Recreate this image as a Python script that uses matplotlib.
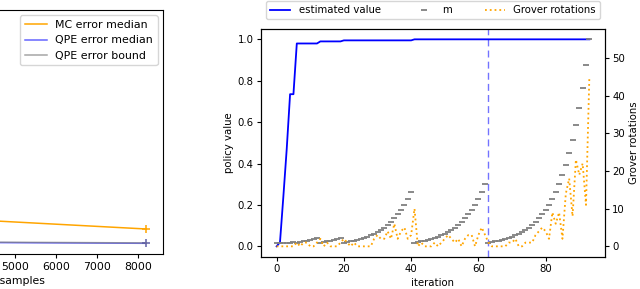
import matplotlib
matplotlib.use('Agg')
import matplotlib.pyplot as plt

plt.rcParams.update({
    'font.size': 7.3,
    'xtick.major.size': 2.6,
    'ytick.major.size': 2.6,
    'xtick.major.pad': 2.6,
    'ytick.major.pad': 2.6,
    'axes.labelpad': 2.8,
})

# left panel: error vs number of samples
n_samples = [16, 32, 64, 128, 256, 512, 1024, 2048, 4096, 8192]
mc_err = [0.125, 0.088, 0.0625, 0.044, 0.031, 0.022, 0.0156, 0.011, 0.0078, 0.0055]
qpe_err = [0.04, 0.025, 0.015, 0.009, 0.006, 0.004, 0.003, 0.0025, 0.00204, 0.00184]
qpe_bound = [0.042, 0.027, 0.016, 0.0095, 0.0065, 0.0044, 0.0033, 0.0027, 0.00215, 0.00194]

# right panel: one estimation run
est_value = ([0.0, 0.02, 0.24, 0.47, 0.735, 0.735]
             + [0.98] * 7 + [0.99] * 7 + [0.995] * 21 + [1.0] * 53)
m_values = ([1, 1, 1, 1, 1, 1.14]
            + [1, 1.14, 1.31, 1.49, 1.71, 1.95, 2.23]
            + [1, 1.14, 1.31, 1.49, 1.71, 1.95, 2.23]
            + [1, 1.14, 1.31, 1.49, 1.71, 1.95, 2.23, 2.55, 2.91, 3.33, 3.80,
               4.35, 4.97, 5.68, 6.49, 7.42, 8.48, 9.69, 11.07, 12.66, 14.46]
            + [1, 1.14, 1.31, 1.49, 1.71, 1.95, 2.23, 2.55, 2.91, 3.33, 3.80,
               4.35, 4.97, 5.68, 6.49, 7.42, 8.48, 9.69, 11.07, 12.66, 14.46, 16.53]
            + [1, 1.14, 1.31, 1.49, 1.71, 1.95, 2.23, 2.55, 2.91, 3.33, 3.80,
               4.35, 4.97, 5.68, 6.49, 7.42, 8.48, 9.69, 11.07, 12.66, 14.46,
               16.53, 18.89, 21.59, 24.67, 28.20, 32.22, 36.83, 42.09, 48.10, 54.97])
grover = ([0, 0, 0, 0, 0, 0]
          + [1, 0, 1, 1, 0, 0, 1]
          + [2, 0, 1, 0, 0, 0, 1, 2]
          + [1, 0, 1, 0, 0, 0, 0, 0]
          + [2, 3, 2, 2, 4, 2, 6, 2, 4, 5, 2, 3]
          + [10, 0, 1, 0, 0, 0, 1, 0, 1, 2]
          + [3, 2, 1, 2, 0, 2, 3, 3, 0, 3, 5, 3]
          + [1, 0, 0, 0, 0]
          + [0, 1, 1, 2, 0, 0, 1, 1, 1, 3, 4, 5, 4]
          + [2, 9, 6, 9, 2, 14, 18, 8, 23, 19, 22, 11, 45])
iterations = list(range(len(est_value)))
marked_iter = 63

fig = plt.figure(figsize=(6.4, 2.89), dpi=100)

# left panel (mostly cropped off)
ax0 = fig.add_axes([-0.3242, 0.1194, 0.5789, 0.846])
ax0.plot(n_samples, mc_err, color='orange', linewidth=1.1, label='MC error median')
ax0.plot(n_samples, qpe_err, color='blue', linewidth=1.1, alpha=0.6, label='QPE error median')
ax0.plot(n_samples, qpe_bound, color='gray', linewidth=1.1, alpha=0.7, label='QPE error bound')
ax0.plot(n_samples, mc_err, '+', color='orange', markersize=6, markeredgewidth=1.1)
ax0.plot(n_samples, qpe_err, '+', color='blue', alpha=0.6, markersize=6, markeredgewidth=1.1)
ax0.plot(n_samples, qpe_bound, '+', color='gray', alpha=0.7, markersize=6, markeredgewidth=1.1)
ax0.set_ylim(-0.00102, 0.0615)
ax0.tick_params(labelsize=7.8)
ax0.set_xlabel('total number of samples', fontsize=7.8)
ax0.set_ylabel('error', fontsize=7.8)
ax0.legend(loc='upper right', fontsize=7.9)

# right panel
ax = fig.add_axes([0.4078, 0.1118, 0.5375, 0.7879])
ax2 = ax.twinx()
l1, = ax.plot(iterations, est_value, color='blue', linewidth=1.3, label='estimated value')
ax.axvline(marked_iter, color='blue', alpha=0.55, linestyle=(0, (5, 3)), linewidth=1.0)
l2, = ax2.plot(iterations, m_values, '_', color='gray', markersize=4.8,
               markeredgewidth=1.3, label='m')
l3, = ax2.plot(iterations, grover, ':', color='orange', linewidth=1.3,
               label='Grover rotations')
ax.set_xlabel('iteration')
ax.set_ylabel('policy value')
ax2.set_ylabel('Grover rotations')
ax.legend([l1, l2, l3], ['estimated value', 'm', 'Grover rotations'],
          bbox_to_anchor=(0., 1.02, 1., .102), loc='lower left', ncol=3,
          mode='expand', numpoints=1)

plt.savefig('out.png', dpi=100)
